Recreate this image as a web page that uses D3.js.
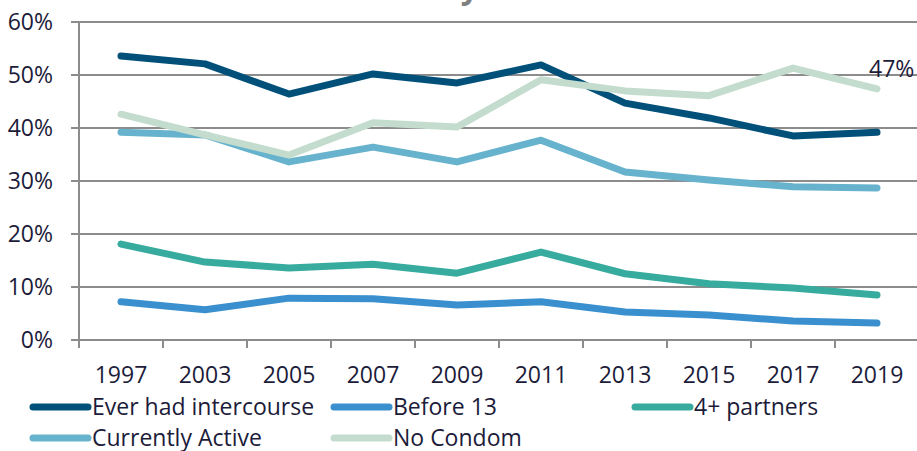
<!DOCTYPE html>
<html>
<head>
<meta charset="utf-8">
<script src="https://cdn.jsdelivr.net/npm/d3@7"></script>
<style>
    html, body { margin: 0; padding: 0; background: #fff; }
    #chart { width: 917px; height: 451px; overflow: hidden; }
    text { font-family: 'Open Sans', sans-serif; }
</style>
</head>
<body>
<div id="chart"></div>
<script>
const years = ['1997', '2003', '2005', '2007', '2009', '2011', '2013', '2015', '2017', '2019'];
const yTicks = [0, 10, 20, 30, 40, 50, 60];

const everHad = [53.6, 52.1, 46.4, 50.2, 48.5, 51.9, 44.7, 41.9, 38.5, 39.2];
const before13 = [7.2, 5.7, 7.9, 7.8, 6.6, 7.2, 5.3, 4.7, 3.6, 3.2];
const fourPlus = [18.1, 14.7, 13.6, 14.3, 12.6, 16.6, 12.5, 10.6, 9.8, 8.5];
const currentlyActive = [39.2, 38.7, 33.6, 36.4, 33.6, 37.7, 31.7, 30.2, 28.9, 28.7];
const noCondom = [42.6, 38.7, 34.9, 41.0, 40.2, 49.1, 47.0, 46.1, 51.3, 47.4];

const seriesNames = ['Ever had intercourse', 'Before 13', '4+ partners', 'Currently Active', 'No Condom'];
const seriesColors = ['#00507a', '#3a90cf', '#37ab9e', '#67b3cd', '#c3dccd'];

const series = [everHad, before13, fourPlus, currentlyActive, noCondom].map((values, i) => ({
    name: seriesNames[i],
    color: seriesColors[i],
    values
}));

const width = 917;
const height = 451;
const margin = { top: 22, right: -2, bottom: 111, left: 79 };
const gridColor = '#8c8c8c';
const textColor = '#1c1c3a';
const fontSize = 23;

const svg = d3
    .select('#chart')
    .append('svg')
    .attr('width', width)
    .attr('height', height)
    .attr('viewBox', [0, 0, width, height]);

// 잘린 제목 (위쪽 밖으로 넘어감)
svg.append('text')
    .attr('x', 487)
    .attr('y', -2)
    .attr('text-anchor', 'middle')
    .attr('font-size', 32)
    .attr('font-weight', 'bold')
    .attr('fill', '#7f7f7f')
    .text('Survey Results');

const x = d3
    .scaleBand()
    .domain(years)
    .range([margin.left, width - margin.right]);

const y = d3
    .scaleLinear()
    .domain([0, 60])
    .range([height - margin.bottom, margin.top]);

// grid lines
svg.append('g')
    .selectAll('line')
    .data(yTicks)
    .join('line')
    .attr('x1', margin.left - 8)
    .attr('x2', width)
    .attr('y1', (d) => y(d))
    .attr('y2', (d) => y(d))
    .attr('stroke', gridColor)
    .attr('stroke-width', 2);

// y axis line
svg.append('line')
    .attr('x1', margin.left)
    .attr('x2', margin.left)
    .attr('y1', y(60))
    .attr('y2', y(0) + 8)
    .attr('stroke', gridColor)
    .attr('stroke-width', 2);

// y labels
svg.append('g')
    .selectAll('text')
    .data(yTicks)
    .join('text')
    .attr('x', 53)
    .attr('y', (d) => y(d))
    .attr('dy', '0.35em')
    .attr('text-anchor', 'end')
    .attr('font-size', fontSize)
    .attr('fill', textColor)
    .text((d) => `${d}%`);

// x ticks at band edges
svg.append('g')
    .selectAll('line')
    .data(years)
    .join('line')
    .attr('x1', (d) => x(d) + x.step())
    .attr('x2', (d) => x(d) + x.step())
    .attr('y1', y(0))
    .attr('y2', y(0) + 8)
    .attr('stroke', gridColor)
    .attr('stroke-width', 2);

// x labels
const xAxis = d3.axisBottom(x).tickSize(0).tickPadding(0);
svg.append('g')
    .attr('transform', `translate(0, ${y(0) + 35})`)
    .call(xAxis)
    .call((g) => g.select('.domain').remove())
    .call((g) =>
        g.selectAll('text')
            .attr('font-size', fontSize)
            .attr('fill', textColor)
            .attr('dy', '0.35em')
            .attr('font-family', "'Open Sans', sans-serif")
    );

// lines
const line = d3
    .line()
    .x((d, i) => x(years[i]) + x.bandwidth() / 2)
    .y((d) => y(d));

svg.append('g')
    .selectAll('path')
    .data(series)
    .join('path')
    .attr('d', (d) => line(d.values))
    .attr('fill', 'none')
    .attr('stroke', (d) => d.color)
    .attr('stroke-width', 7)
    .attr('stroke-linecap', 'round')
    .attr('stroke-linejoin', 'round');

// 마지막 값 라벨 (No Condom)
const lastIdx = years.length - 1;
svg.append('text')
    .attr('x', x(years[lastIdx]) + x.bandwidth() / 2 - 8)
    .attr('y', y(noCondom[lastIdx]) - 12)
    .attr('font-size', fontSize)
    .attr('fill', textColor)
    .text(`${Math.round(noCondom[lastIdx])}%`);

// legend
const legendPos = [
    [33, 407],
    [334, 407],
    [635, 407],
    [33, 438],
    [334, 438]
];

const legend = svg
    .append('g')
    .selectAll('g')
    .data(series)
    .join('g')
    .attr('transform', (d, i) => `translate(${legendPos[i][0]}, ${legendPos[i][1]})`);

legend.append('line')
    .attr('x1', 0)
    .attr('x2', 55)
    .attr('stroke', (d) => d.color)
    .attr('stroke-width', 7)
    .attr('stroke-linecap', 'round');

legend.append('text')
    .attr('x', 59)
    .attr('dy', '0.35em')
    .attr('font-size', fontSize)
    .attr('fill', textColor)
    .text((d) => d.name);
</script>
</body>
</html>
